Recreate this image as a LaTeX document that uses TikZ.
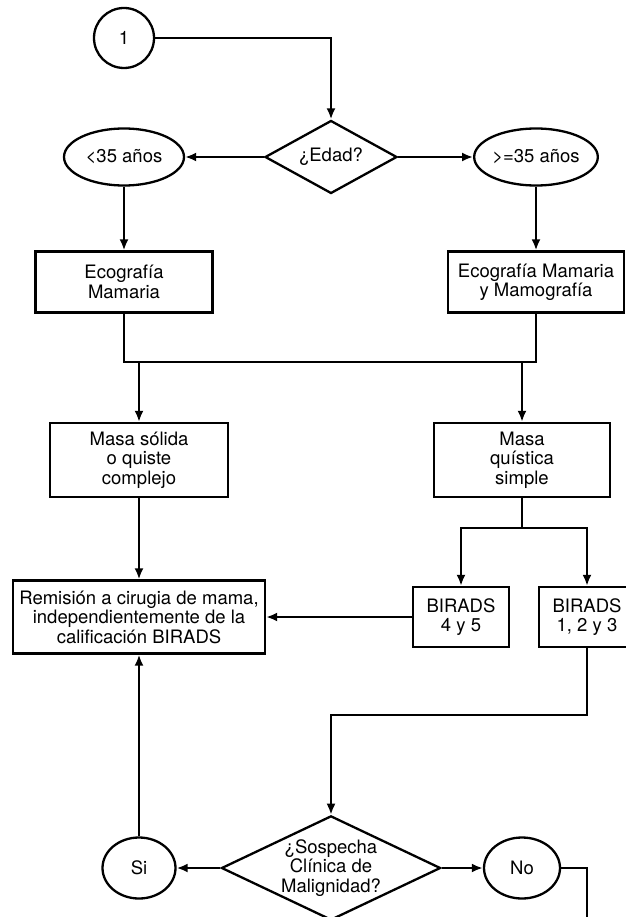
\documentclass[tikz,border=0pt]{standalone}
\usepackage{fontspec}
\setmainfont{TeX Gyre Heros}
\usetikzlibrary{shapes.geometric,arrows.meta}

\begin{document}
\begin{tikzpicture}[x=1pt,y=-1pt]
        % Define the styles for boxes, decisions, ovals and connectors
        \tikzstyle{texto}=[align=center, font=\fontsize{18.5}{19.5}\selectfont];
        \tikzstyle{caja}=[texto, draw, line width=2.3pt, rectangle, inner sep=2pt];
        \tikzstyle{decision}=[texto, draw, line width=2.3pt, diamond, inner sep=0pt];
        \tikzstyle{rotulo}=[texto, draw, line width=2.3pt, ellipse, inner sep=0pt];
        \tikzstyle{linea}=[line width=2.3pt];
        \tikzstyle{flecha}=[linea, -{Latex[length=11pt,width=9pt]}];

        \useasboundingbox (0,0) rectangle (625,917);

        % Start connector and the age question
        \node[rotulo, minimum width=60, minimum height=60] (uno) at (124,38) {1};
        \node[decision, aspect=1.8, minimum width=132, minimum height=73] (edad) at (331,157) {¿Edad?};
        \node[rotulo, minimum width=120, minimum height=57] (menor) at (124,157) {<35 años};
        \node[rotulo, minimum width=122, minimum height=57] (mayor) at (536,157) {>=35 años};

        % Imaging
        \node[caja, minimum width=177, minimum height=61] (eco) at (124,282) {Ecografía\\Mamaria};
        \node[caja, minimum width=176, minimum height=61] (ecomamo) at (536,282) {Ecografía Mamaria\\y Mamografía};

        % Findings
        \node[caja, minimum width=178, minimum height=74] (solida) at (139,460) {Masa sólida\\o quiste\\complejo};
        \node[caja, minimum width=176, minimum height=74] (quistica) at (522,460) {Masa\\quística\\simple};

        % BIRADS and referral
        \node[caja, minimum width=96, minimum height=60] (b45) at (461,617) {BIRADS\\4 y 5};
        \node[caja, minimum width=96, minimum height=60] (b123) at (587,617) {BIRADS\\1, 2 y 3};
        \node[caja, minimum width=252, minimum height=73] (remision) at (139,617) {Remisión a cirugia de mama,\\independientemente de la\\calificación BIRADS};

        % Clinical suspicion
        \node[decision, aspect=2.1, minimum width=217, minimum height=102] (sosp) at (331,868) {¿Sospecha\\Clínica de\\Malignidad?};
        \node[rotulo, minimum width=73, minimum height=61] (si) at (139,868) {Si};
        \node[rotulo, minimum width=76, minimum height=61] (no) at (522,868) {No};

        % Helper points for the elbows
        \coordinate (union1) at (124,362);
        \coordinate (union2) at (536,362);
        \coordinate (rama) at (522,528);
        \coordinate (vuelta) at (587,715);
        \coordinate (salida) at (587,917);

        % Connectors
        \draw[flecha] (uno.east) -| (edad.north);
        \draw[flecha] (edad.west) -- (menor.east);
        \draw[flecha] (edad.east) -- (mayor.west);
        \draw[flecha] (menor) -- (eco);
        \draw[flecha] (mayor) -- (ecomamo);
        \draw[linea] (eco.south) -- (union1) -- (union2) -- (ecomamo.south);
        \draw[flecha] (solida.north |- union1) -- (solida.north);
        \draw[flecha] (quistica.north |- union1) -- (quistica.north);
        \draw[linea] (quistica.south) -- (rama);
        \draw[flecha] (rama) -| (b45.north);
        \draw[flecha] (rama) -| (b123.north);
        \draw[flecha] (solida) -- (remision);
        \draw[flecha] (b45.west) -- (remision.east);
        \draw[flecha] (b123.south) -- (vuelta) -| (sosp.north);
        \draw[flecha] (sosp.west) -- (si.east);
        \draw[flecha] (sosp.east) -- (no.west);
        \draw[flecha] (si) -- (remision);
        \draw[linea] (no.east) -| (salida);
\end{tikzpicture}
\end{document}
